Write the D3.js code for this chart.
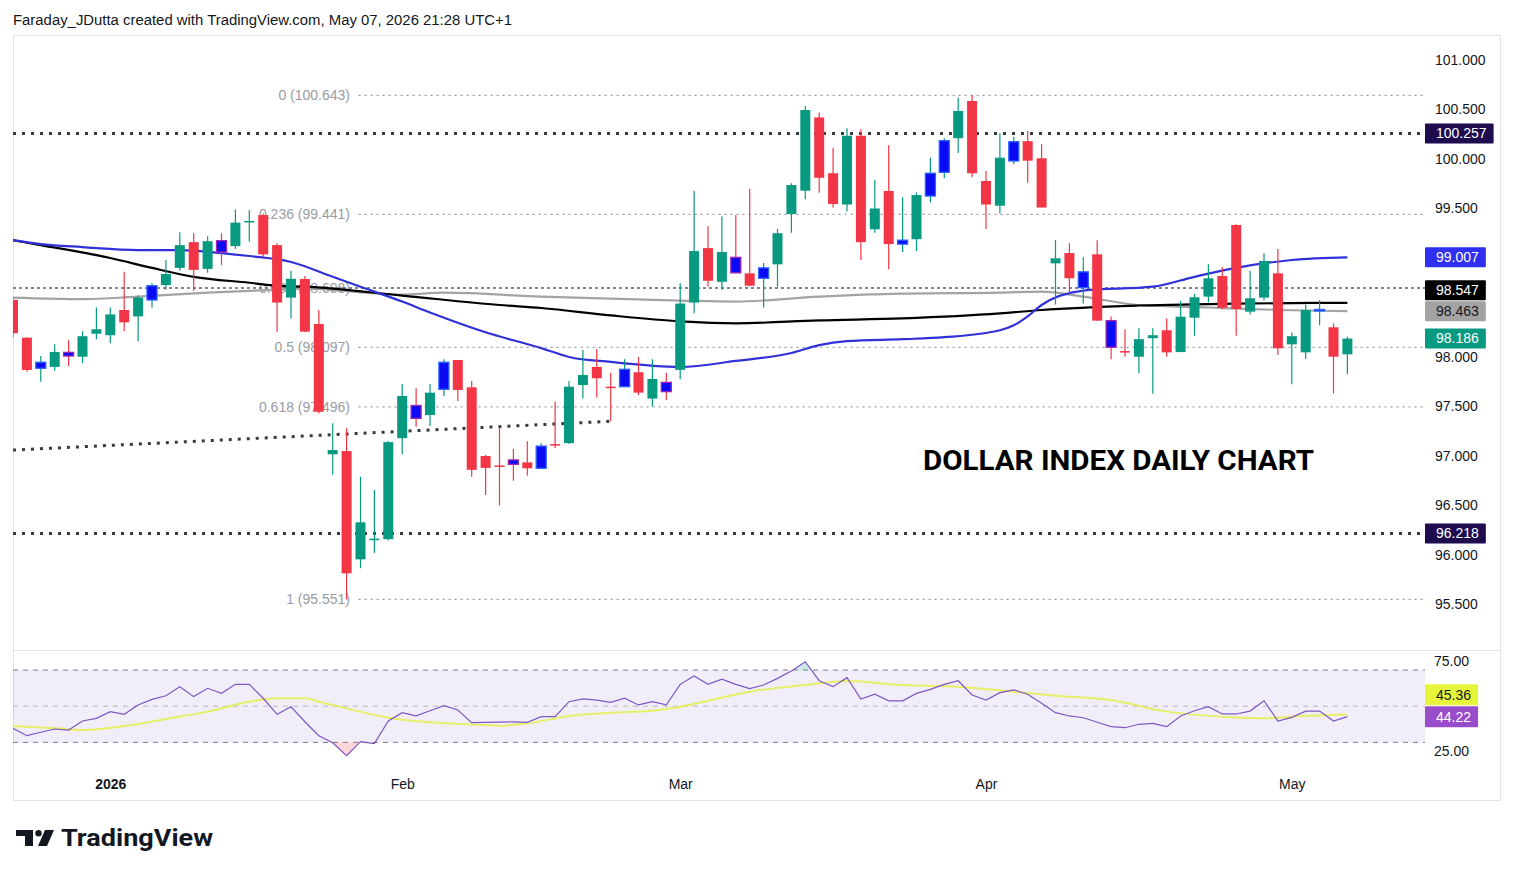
<!DOCTYPE html>
<html>
<head>
<meta charset="utf-8">
<script src="https://cdn.jsdelivr.net/npm/d3@7"></script>
<style>
  body { margin: 0; background: #fff; }
  svg { display: block; font-family: "Liberation Sans", Arial, sans-serif; }
</style>
</head>
<body>
<div id="chart"></div>
<script>
//***************** data *******************/
// trading days shown (Dec 2025 -> May 2026)
var decDays = [22,23,24,26,29,30,31];
var janDays = [2,5,6,7,8,9,12,13,14,15,16,19,20,21,22,23,26,27,28,29,30];
var febDays = [2,3,4,5,6,9,10,11,12,13,16,17,18,19,20,23,24,25,26,27];
var marDays = [2,3,4,5,6,9,10,11,12,13,16,17,18,19,20,23,24,25,26,27,30,31];
var aprDays = [1,2,3,6,7,8,9,10,13,14,15,16,17,20,21,22,23,24,27,28,29,30];
var mayDays = [1,4,5,6,7];

var tickMonths = ["Jan", "Feb", "Mar", "Apr", "May"];
var tickLabels = ["2026", "Feb", "Mar", "Apr", "May"];

// daily OHLC (DXY)
var opens = [98.576,98.195,97.886,97.90,98.047,98.003,98.235,98.22,98.475,98.41,
  98.576,98.727,98.90,99.16,98.89,99.175,99.12,99.37,99.434,99.13,
  98.60,98.788,98.333,97.017,97.05,95.956,96.16,96.16,97.18,97.51,
  97.414,97.674,97.97,97.694,97.0,96.905,96.96,96.936,96.876,97.12,
  97.13,97.717,97.90,97.70,97.70,97.846,97.58,97.744,97.87,98.55,
  99.10,98.76,99.007,98.845,98.795,98.936,99.444,99.68,100.42,99.856,
  99.54,100.235,99.29,99.677,99.14,99.19,99.626,99.866,100.21,100.586,
  99.778,99.528,99.98,100.18,100.007,98.946,99.05,98.86,99.037,98.367,
  98.06,98.003,98.19,98.27,98.05,98.397,98.61,98.818,99.333,98.458,
  98.60,98.845,98.128,98.047,98.48,98.30,98.027];
var highs = [98.60,98.20,98.01,98.13,98.17,98.26,98.50,98.50,98.86,98.62,
  98.744,98.98,99.26,99.25,99.22,99.25,99.49,99.485,99.45,99.15,
  98.87,98.818,98.475,97.33,97.28,96.79,96.657,97.15,97.727,97.684,
  97.727,97.977,97.97,97.757,97.01,97.29,97.07,97.15,97.13,97.55,
  97.757,98.07,98.08,97.84,97.977,98.0,97.977,97.84,98.744,99.68,
  99.32,99.42,99.434,99.70,98.95,99.293,99.755,100.535,100.47,100.114,
  100.31,100.30,99.79,100.14,99.613,99.664,100.013,100.21,100.62,100.643,
  99.88,100.26,100.225,100.283,100.148,99.18,99.15,99.007,99.18,98.41,
  98.28,98.29,98.29,98.39,98.566,98.636,98.936,98.91,99.34,98.87,
  99.048,99.09,98.245,98.53,98.576,98.34,98.205];
var lows = [98.20,97.85,97.75,97.86,97.91,97.94,98.18,98.14,98.26,98.16,
  98.50,98.68,98.87,98.67,98.85,98.93,99.09,99.165,99.01,98.25,
  98.39,98.25,97.43,96.81,95.551,95.866,96.02,96.15,97.017,97.296,
  97.303,97.606,97.556,96.79,96.606,96.498,96.75,96.80,96.87,97.08,
  97.12,97.58,97.59,97.35,97.70,97.616,97.5,97.566,97.775,98.44,
  98.71,98.68,98.85,98.717,98.50,98.71,99.256,99.593,99.66,99.51,
  99.47,98.98,99.256,98.886,99.06,99.07,99.563,99.805,100.06,99.815,
  99.293,99.45,99.95,99.76,99.51,98.53,98.64,98.54,98.367,97.977,
  98.003,97.835,97.63,98.003,98.05,98.215,98.553,98.48,98.215,98.43,
  98.57,98.02,97.724,97.98,98.32,97.63,97.825];
var closes = [98.24,97.869,97.947,98.05,98.01,98.21,98.28,98.43,98.35,98.60,
  98.72,98.838,99.13,98.88,99.17,99.06,99.357,99.374,99.037,98.55,
  98.79,98.256,97.447,97.06,95.815,96.33,96.165,97.14,97.606,97.38,
  97.64,97.947,97.667,96.86,96.88,96.90,96.916,96.876,97.10,97.105,
  97.70,97.818,97.785,97.695,97.876,97.64,97.778,97.65,98.54,99.07,
  98.77,99.06,98.85,98.72,98.90,99.25,99.737,100.495,99.81,99.545,
  100.235,99.16,99.50,99.14,99.18,99.636,99.856,100.185,100.485,99.856,
  99.54,100.013,100.175,99.983,99.51,98.997,98.795,98.70,98.367,98.098,
  98.05,98.18,98.22,98.047,98.407,98.603,98.795,98.498,98.485,98.593,
  98.97,98.088,98.21,98.475,98.47,98.003,98.186];
// candle colouring: g = up, r = down, b = blue (up), p = blue (down)
var kinds = ("rrbgpgggrg" + "bggrgpggrr" + "grrgrggggp" + "gbrrrrprbr" + "ggrrbrgpgg" +
             "rgprbgggrr" + "grgrbgbbgr" + "rgbrrgrbrp" + "rggrgggrrg" + "grggbrg").split("");

// moving averages: [bar index, value]
var maBlue = [[0,99.18],[2,99.14],[5,99.11],[9,99.08],[12,99.08],[15,99.05],[17,99.02],[20,98.96],
  [23,98.81],[25,98.71],[28,98.56],[30,98.45],[34,98.25],[38,98.09],[40,98.0],[43,97.95],[48,97.90],
  [52,97.96],[56,98.04],[58,98.12],[60,98.16],[64,98.18],[67,98.20],[71,98.27],[72,98.32],[73,98.41],
  [74,98.525],[77,98.67],[82,98.71],[85,98.81],[88,98.90],[92,98.98],[96,99.007]];
var maBlack = [[0,99.18],[2,99.13],[7,99.0],[10,98.90],[13,98.81],[17,98.75],[19,98.72],[21,98.71],
  [28,98.62],[35,98.525],[38,98.495],[43,98.42],[48,98.36],[52,98.34],[58,98.37],[64,98.39],
  [71,98.44],[74,98.475],[81,98.52],[88,98.54],[96,98.547]];
var maGray = [[0,98.60],[5,98.585],[9,98.61],[14,98.65],[19,98.68],[21,98.69],[28,98.63],[31,98.65],
  [38,98.61],[48,98.57],[52,98.56],[58,98.61],[64,98.64],[71,98.65],[74,98.66],[77,98.61],
  [81,98.525],[86,98.50],[91,98.475],[96,98.463]];

// drawings
var fibHigh = 100.643, fibLow = 95.551;
var fibLevels = [0, 0.236, 0.382, 0.5, 0.618, 1];
var hLines = [100.257, 96.218];
var trendLine = [[0, 97.06], [42.9, 97.35]];
var priceTicks = [95.5, 96, 96.5, 97, 97.5, 98, 98.5, 99, 99.5, 100, 100.5, 101];

// RSI
var rsi = [37.8,33.7,35.6,37.4,36.8,41.8,43.3,47.0,45.5,50.7,
  53.8,55.8,60.8,55.3,59.9,57.1,62.1,62.1,54.4,45.5,
  49.7,41.4,33.7,29.8,22.6,30.4,29.3,41.8,46.4,44.7,
  47.5,50.3,47.9,40.9,41.1,41.2,41.3,41.1,44.2,44.2,
  52.5,54.0,53.4,52.1,54.4,50.7,52.5,50.7,62.1,66.7,
  62.1,64.9,62.1,59.7,61.7,65.4,69.5,74.6,64.1,60.8,
  65.8,54.0,56.6,53.0,53.0,57.1,59.3,62.1,64.1,56.2,
  53.4,57.5,59.0,56.6,51.6,46.4,44.6,43.6,41.1,38.7,
  38.1,40.0,40.5,38.7,44.6,47.5,49.7,45.7,45.7,47.3,
  53.0,41.8,43.8,47.3,47.3,41.8,44.22];
var rsiMa = [[0,39.0],[3,37.8],[5,36.8],[8,39.0],[11,42.9],[14,47.0],[17,52.5],[19,54.4],[21,54.4],
  [22,52.5],[24,48.8],[27,43.6],[30,41.1],[34,39.6],[35,39.2],[37,40.5],[40,44.6],[43,46.4],
  [46,47.5],[48,49.7],[50,53.0],[53,58.0],[57,61.7],[60,63.9],[64,61.7],[68,60.8],[72,58.0],
  [75,55.8],[79,53.4],[83,47.0],[87,44.2],[90,43.3],[92,44.2],[96,45.36]];
var rsiTicks = [25, 75];
var rsiBands = [70, 50, 30];

//************* set dimensions ***************/
var W = 1514, H = 877;
var plot = { left: 13, right: 1425, top: 35, split: 650, rsiBottom: 770, frameRight: 1500, bottom: 800 };

//************** setup svg *****************/
var svg = d3.select("#chart").append("svg")
  .attr("width", W)
  .attr("height", H);

var defs = svg.append("defs");
defs.append("clipPath").attr("id", "clipPrice").append("rect")
  .attr("x", plot.left).attr("y", plot.top + 1)
  .attr("width", plot.right - plot.left).attr("height", plot.split - plot.top - 1);
defs.append("clipPath").attr("id", "clipRsi").append("rect")
  .attr("x", plot.left).attr("y", plot.split + 1)
  .attr("width", plot.right - plot.left).attr("height", plot.rsiBottom - plot.split - 1);

//***************** scales *******************/
var x = d3.scaleLinear().domain([0, 96]).range([13, 13 + 13.9 * 96]);
var y = d3.scaleLinear().domain([95.5, 101]).range([604.5, 60]);
var yR = d3.scaleLinear().domain([25, 75]).range([751.4, 661]);

// dates -> month start ticks
var months = [["Dec", decDays], ["Jan", janDays], ["Feb", febDays], ["Mar", marDays], ["Apr", aprDays], ["May", mayDays]];
var dates = [];
months.forEach(function(m) { m[1].forEach(function(d) { dates.push({ month: m[0], day: d }); }); });
var tickIdx = tickMonths.map(function(m) { return dates.findIndex(function(d) { return d.month === m; }); });

var candles = opens.map(function(o, i) {
  return { i: i, o: o, h: highs[i], l: lows[i], c: closes[i], k: kinds[i] };
});

//***************** header *******************/
svg.append("text")
  .attr("x", 13).attr("y", 25)
  .attr("font-size", "14px")
  .attr("fill", "#131722")
  .attr("textLength", 499)
  .attr("lengthAdjust", "spacingAndGlyphs")
  .text("Faraday_JDutta created with TradingView.com, May 07, 2026 21:28 UTC+1");

//***************** frame *******************/
svg.append("rect")
  .attr("x", plot.left + 0.5).attr("y", plot.top + 0.5)
  .attr("width", plot.frameRight - plot.left).attr("height", plot.bottom - plot.top)
  .attr("fill", "none").attr("stroke", "#e0e3eb");
svg.append("line")
  .attr("x1", plot.left).attr("x2", plot.frameRight)
  .attr("y1", plot.split + 0.5).attr("y2", plot.split + 0.5)
  .attr("stroke", "#e0e3eb");

//***************** price pane *******************/
var gp = svg.append("g").attr("clip-path", "url(#clipPrice)");

// fibonacci retracement
var fibRange = fibHigh - fibLow;
var fibX0 = x(24) + 12;
fibLevels.forEach(function(lv) {
  var price = fibHigh - lv * fibRange;
  var full = lv === 0.382;
  gp.append("text")
    .attr("x", 350).attr("y", y(price) + 5)
    .attr("text-anchor", "end")
    .attr("font-size", "14px")
    .attr("fill", "#999ba3")
    .text(lv + " (" + price.toFixed(3) + ")");
  gp.append("line")
    .attr("x1", full ? plot.left : fibX0).attr("x2", plot.right)
    .attr("y1", y(price)).attr("y2", y(price))
    .attr("stroke", full ? "#5d606b" : "#9a9ca4")
    .attr("stroke-width", full ? 1.5 : 1.3)
    .attr("stroke-dasharray", full ? "3,3" : "2,4");
});

// heavy dotted horizontal lines and trend line
hLines.forEach(function(v) {
  gp.append("line")
    .attr("x1", plot.left).attr("x2", plot.right)
    .attr("y1", y(v)).attr("y2", y(v))
    .attr("stroke", "#363a45").attr("stroke-width", 3)
    .attr("stroke-dasharray", "3,6");
});
gp.append("line")
  .attr("x1", x(trendLine[0][0])).attr("y1", y(trendLine[0][1]))
  .attr("x2", x(trendLine[1][0])).attr("y2", y(trendLine[1][1]))
  .attr("stroke", "#363a45").attr("stroke-width", 3)
  .attr("stroke-dasharray", "3,6");

// moving averages
var maLine = d3.line()
  .x(function(d) { return x(d[0]); })
  .y(function(d) { return y(d[1]); })
  .curve(d3.curveMonotoneX);
[[maGray, "#a3a3a3"], [maBlack, "#000000"], [maBlue, "#3131d9"]].forEach(function(m) {
  gp.append("path")
    .attr("d", maLine(m[0]))
    .attr("fill", "none")
    .attr("stroke", m[1])
    .attr("stroke-width", 2.2);
});

// candles
var upCol = "#089981", dnCol = "#f23645", blueCol = "#0a0af5";
function wickColor(k) { return (k === "g" || k === "b") ? upCol : dnCol; }
var cg = gp.selectAll("g.candle").data(candles).enter().append("g").attr("class", "candle");
cg.append("line")
  .attr("x1", function(d) { return x(d.i); })
  .attr("x2", function(d) { return x(d.i); })
  .attr("y1", function(d) { return y(d.h); })
  .attr("y2", function(d) { return y(d.l); })
  .attr("stroke", function(d) { return wickColor(d.k); })
  .attr("stroke-width", 1.2);
cg.append("rect")
  .attr("x", function(d) { return x(d.i) - 5; })
  .attr("width", 10)
  .attr("y", function(d) { return y(Math.max(d.o, d.c)); })
  .attr("height", function(d) { return Math.max(1.5, Math.abs(y(d.o) - y(d.c))); })
  .attr("fill", function(d) {
    if (d.k === "g") return upCol;
    else if (d.k === "r") return dnCol;
    else return blueCol;
  })
  .attr("stroke", function(d) {
    if (d.k === "b") return "#2962ff";
    else if (d.k === "p") return "#9c27b0";
    else return "none";
  })
  .attr("stroke-width", 1.3);

// chart title
svg.append("text")
  .attr("x", 923).attr("y", 470)
  .attr("font-family", "Roboto, 'Liberation Sans', sans-serif")
  .attr("font-weight", "bold")
  .attr("font-size", "28px")
  .attr("fill", "#000")
  .attr("textLength", 391)
  .attr("lengthAdjust", "spacingAndGlyphs")
  .text("DOLLAR INDEX DAILY CHART");

//***************** price axis *******************/
var pAxis = svg.append("g")
  .attr("transform", "translate(1435,0)")
  .call(d3.axisRight(y).tickValues(priceTicks).tickFormat(d3.format(".3f")).tickSize(0).tickPadding(0));
pAxis.select(".domain").remove();
pAxis.selectAll("text").attr("font-size", "14px").attr("fill", "#131722").attr("font-family", "'Liberation Sans', Arial, sans-serif");

// value labels on the axis (hide axis ticks they cover)
function stackLabels(items, boxH, axisG, scale) {
  items.sort(function(a, b) { return a.yy - b.yy; });
  for (var i = items.length - 2; i >= 0; i--) {
    if (items[i].yy > items[i + 1].yy - boxH - 1) items[i].yy = items[i + 1].yy - boxH - 1;
  }
  axisG.selectAll(".tick").filter(function(t) {
    return items.some(function(it) { return Math.abs(scale(t) - it.yy) < 15; });
  }).remove();
  items.forEach(function(it) {
    var g = svg.append("g");
    var r = g.append("rect").attr("x", 1425).attr("y", it.yy - boxH / 2).attr("height", boxH)
      .attr("fill", it.bg).attr("rx", 1);
    var t = g.append("text")
      .attr("x", 1436).attr("y", it.yy).attr("dy", "0.35em")
      .attr("font-size", "14px").attr("fill", it.fg)
      .text(it.txt);
    r.attr("width", t.node().getComputedTextLength() + 18);
  });
}
stackLabels([
  { txt: hLines[0].toFixed(3), yy: y(hLines[0]), bg: "#1e0c4f", fg: "#fff" },
  { txt: maBlue[maBlue.length - 1][1].toFixed(3), yy: y(maBlue[maBlue.length - 1][1]), bg: "#3030f0", fg: "#fff" },
  { txt: maBlack[maBlack.length - 1][1].toFixed(3), yy: y(maBlack[maBlack.length - 1][1]), bg: "#000", fg: "#fff" },
  { txt: maGray[maGray.length - 1][1].toFixed(3), yy: y(maGray[maGray.length - 1][1]), bg: "#a3a3a3", fg: "#131722" },
  { txt: closes[closes.length - 1].toFixed(3), yy: y(closes[closes.length - 1]), bg: "#089981", fg: "#fff" },
  { txt: hLines[1].toFixed(3), yy: y(hLines[1]), bg: "#1e0c4f", fg: "#fff" }
], 20, pAxis, y);

//***************** RSI pane *******************/
var gr = svg.append("g").attr("clip-path", "url(#clipRsi)");
gr.append("rect")
  .attr("x", plot.left).attr("width", plot.right - plot.left)
  .attr("y", yR(70)).attr("height", yR(30) - yR(70))
  .attr("fill", "#7e57c2").attr("fill-opacity", 0.1);
rsiBands.forEach(function(v) {
  gr.append("line")
    .attr("x1", plot.left).attr("x2", plot.right)
    .attr("y1", yR(v)).attr("y2", yR(v))
    .attr("stroke", "#787b86")
    .attr("stroke-opacity", v === 50 ? 0.5 : 1)
    .attr("stroke-dasharray", "5,5");
});

// overbought / oversold fills
defs.append("clipPath").attr("id", "clipOs").append("rect")
  .attr("x", plot.left).attr("y", yR(30)).attr("width", plot.right - plot.left).attr("height", 60);
defs.append("clipPath").attr("id", "clipOb").append("rect")
  .attr("x", plot.left).attr("y", plot.split).attr("width", plot.right - plot.left).attr("height", yR(70) - plot.split);
gr.append("path")
  .attr("clip-path", "url(#clipOs)")
  .attr("d", d3.area().x(function(d, i) { return x(i); }).y0(yR(30)).y1(function(d) { return yR(d); })(rsi))
  .attr("fill", "#f23645").attr("fill-opacity", 0.2);
gr.append("path")
  .attr("clip-path", "url(#clipOb)")
  .attr("d", d3.area().x(function(d, i) { return x(i); }).y0(yR(70)).y1(function(d) { return yR(d); })(rsi))
  .attr("fill", "#089981").attr("fill-opacity", 0.2);

gr.append("path")
  .attr("d", d3.line().x(function(d) { return x(d[0]); }).y(function(d) { return yR(d[1]); }).curve(d3.curveMonotoneX)(rsiMa))
  .attr("fill", "none").attr("stroke", "#e4ee4e").attr("stroke-width", 2).attr("stroke-opacity", 0.85);
gr.append("path")
  .attr("d", d3.line().x(function(d, i) { return x(i); }).y(function(d) { return yR(d); })(rsi))
  .attr("fill", "none").attr("stroke", "#7e57c2").attr("stroke-width", 1.2);

var rAxis = svg.append("g")
  .attr("transform", "translate(1434,0)")
  .call(d3.axisRight(yR).tickValues(rsiTicks).tickFormat(d3.format(".2f")).tickSize(0).tickPadding(0));
rAxis.select(".domain").remove();
rAxis.selectAll("text").attr("font-size", "14px").attr("fill", "#131722").attr("font-family", "'Liberation Sans', Arial, sans-serif");

stackLabels([
  { txt: rsiMa[rsiMa.length - 1][1].toFixed(2), yy: yR(rsiMa[rsiMa.length - 1][1]), bg: "#e6f53a", fg: "#131722" },
  { txt: rsi[rsi.length - 1].toFixed(2), yy: yR(rsi[rsi.length - 1]), bg: "#9a4dca", fg: "#fff" }
], 21, rAxis, yR);

//***************** time axis *******************/
var tAxis = svg.append("g")
  .attr("transform", "translate(0,779)")
  .call(d3.axisBottom(x).tickValues(tickIdx).tickFormat(function(d, i) { return tickLabels[i]; }).tickSize(0).tickPadding(0));
tAxis.select(".domain").remove();
tAxis.selectAll("text")
  .attr("font-size", "14px")
  .attr("fill", "#131722")
  .attr("font-family", "'Liberation Sans', Arial, sans-serif")
  .attr("font-weight", function(d, i) { return i === 0 ? "bold" : "normal"; });

//***************** logo *******************/
var logo = svg.append("g").attr("fill", "#131722");
logo.append("path").attr("d", "M16,830 H33 V846 H25 V836 H16 Z");
logo.append("circle").attr("cx", 38.5).attr("cy", 833.2).attr("r", 3.2);
logo.append("path").attr("d", "M45,830 H54 L47,846 H38 Z");
logo.append("text")
  .attr("x", 61).attr("y", 846)
  .attr("font-family", "Roboto, 'Liberation Sans', sans-serif")
  .attr("font-weight", "bold")
  .attr("font-size", "23px")
  .attr("textLength", 152)
  .attr("lengthAdjust", "spacingAndGlyphs")
  .text("TradingView");
</script>
</body>
</html>
